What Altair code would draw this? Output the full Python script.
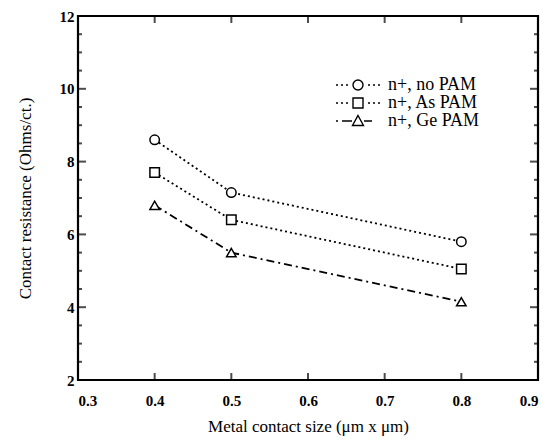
import altair as alt
import pandas as pd

sizes = [0.4, 0.5, 0.8]
no_pam = [8.6, 7.15, 5.8]
as_pam = [7.7, 6.4, 5.05]
ge_pam = [6.8, 5.5, 4.15]
series = ["n+, no PAM", "n+, As PAM", "n+, Ge PAM"]

x_ticks = [0.3, 0.4, 0.5, 0.6, 0.7, 0.8, 0.9]
y_major = [2, 4, 6, 8, 10, 12]
y_minor = [2.5, 3, 3.5, 4.5, 5, 5.5, 6.5, 7, 7.5, 8.5, 9, 9.5, 10.5, 11, 11.5]

rows = []
for name, vals in zip(series, [no_pam, as_pam, ge_pam]):
    for s, v in zip(sizes, vals):
        rows.append({"size": s, "r": v, "series": name, "series_l": name})
df = pd.DataFrame(rows)

FONT = "Liberation Serif"
W, H = 460, 364

# legend glyphs: marker with its line style on both sides (unit = half marker width)
DOTS = "M-4.4,0L-4,0M-3.4,0L-3,0M-2.4,0L-2,0M2,0L2.4,0M3,0L3.4,0M4,0L4.4,0"
DASHDOT = "M-4.4,0L-4,0M-3.2,0L-1.2,0M1.2,0L2.8,0"
CIRCLE = "M-1,0A1,1,0,1,1,1,0A1,1,0,1,1,-1,0Z"
SQUARE = "M-1,-1L1,-1L1,1L-1,1Z"
TRIANGLE = "M0,-1.1L1.1,0.9L-1.1,0.9Z"
legend_glyphs = [DOTS + CIRCLE, DOTS + SQUARE, DASHDOT + TRIANGLE]

xscale = alt.Scale(domain=[0.3, 0.9], nice=False, zero=False)
yscale = alt.Scale(domain=[2, 12], nice=False, zero=False)

x_axis = alt.Axis(values=x_ticks, format=".1f", title="Metal contact size (μm x μm)",
                  ticks=False, tickSize=0, domain=False, grid=False,
                  labelPadding=13, labelFontSize=15, labelFontWeight="bold",
                  labelColor="black", titleColor="black",
                  titleFontSize=17, titleFontWeight="normal", titlePadding=10,
                  labelFont=FONT, titleFont=FONT)
y_axis = alt.Axis(values=y_major, format="d", title="Contact resistance (Ohms/ct.)",
                  ticks=False, tickSize=0, domain=False, grid=False,
                  labelPadding=4, labelFontSize=15, labelFontWeight="bold",
                  labelColor="black", titleColor="black",
                  titleFontSize=17, titleFontWeight="normal", titlePadding=25,
                  labelFont=FONT, titleFont=FONT)

X = lambda f: alt.X(f, scale=xscale, axis=x_axis)
Y = lambda f: alt.Y(f, scale=yscale, axis=y_axis)

legend = alt.Legend(title=None, orient="none", legendX=271, legendY=60,
                    labelFont=FONT, labelFontSize=18, labelColor="black",
                    symbolSize=100, symbolStrokeColor="black",
                    symbolFillColor="white", symbolOpacity=1,
                    symbolStrokeWidth=1.4, rowPadding=0, labelOffset=21)

base = alt.Chart(df)

lines = base.mark_line(strokeWidth=1.8, color="black").encode(
    x=X("size:Q"), y=Y("r:Q"),
    strokeDash=alt.StrokeDash("series:N", sort=series,
                              scale=alt.Scale(domain=series,
                                              range=[[2, 3], [2, 3], [8, 4, 2, 4]]),
                              legend=None),
)

points = base.mark_point(filled=False, color="black", fill="white", fillOpacity=1,
                         size=90, strokeWidth=1.5).encode(
    x=X("size:Q"), y=Y("r:Q"),
    shape=alt.Shape("series:N", sort=series,
                    scale=alt.Scale(domain=series,
                                    range=["circle", "square", "triangle-up"]),
                    legend=None),
)

legend_layer = base.mark_point(color="black", opacity=0).encode(
    x=X("size:Q"), y=Y("r:Q"),
    shape=alt.Shape("series_l:N", sort=series,
                    scale=alt.Scale(domain=series, range=legend_glyphs),
                    legend=legend),
)

# inward tick marks on all four sides, placed by the shared scales
ymaj = alt.Chart(pd.DataFrame({"r": y_major}))
ymin = alt.Chart(pd.DataFrame({"r": y_minor}))
xt = alt.Chart(pd.DataFrame({"size": x_ticks}))

def ytick(src, xpos, length):
    return src.mark_tick(orient="horizontal", size=length, thickness=2,
                         color="black").encode(y=Y("r:Q"), x=alt.value(xpos))

def xtick(ypos, length):
    return xt.mark_tick(orient="vertical", size=length, thickness=2,
                        color="black").encode(x=X("size:Q"), y=alt.value(ypos))

ticks = [
    ytick(ymaj, 4, 8), ytick(ymin, 2, 4),
    ytick(ymaj, W - 4, 8), ytick(ymin, W - 2, 4),
    xtick(H - 3.5, 7), xtick(3.5, 7),
]

chart = alt.layer(lines, points, legend_layer, *ticks).resolve_scale(
    shape="independent"
).properties(
    width=W, height=H,
    autosize=alt.AutoSizeParams(type="none"),
    padding={"left": 78, "top": 16, "right": 16, "bottom": 68},
).configure_view(stroke="black", strokeWidth=2.2)

chart.save("out.html", embed_options={"renderer": "svg", "actions": False})
